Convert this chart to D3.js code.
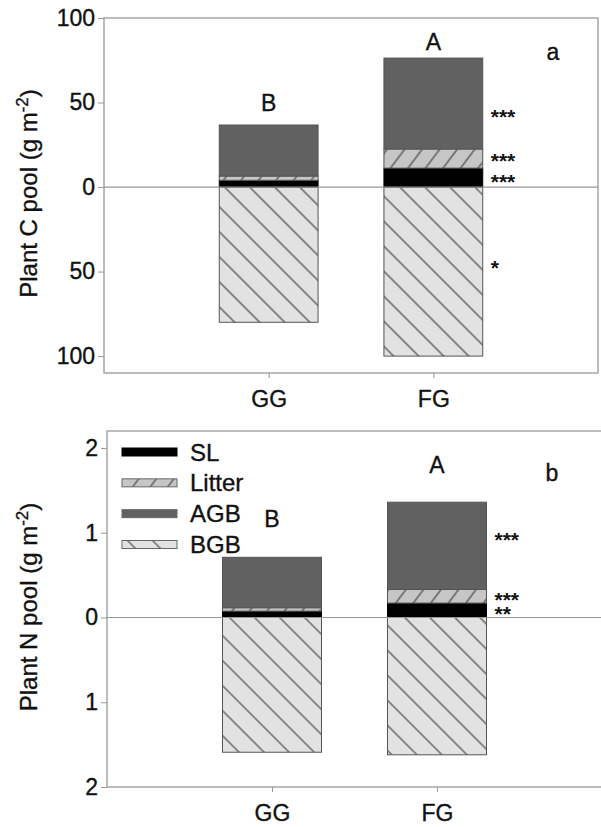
<!DOCTYPE html>
<html>
<head>
<meta charset="utf-8">
<script src="https://cdn.jsdelivr.net/npm/d3@7"></script>
<style>
  body { margin: 0; background: #fff; }
  svg { display: block; font-family: "Liberation Sans", Arial, sans-serif; }
  .lbl { fill: #111; stroke: #111; stroke-width: 0.35px; }
</style>
</head>
<body>
<svg id="chart" width="601" height="827"></svg>
<script>
// plant C / N pools, stacked above (SL, Litter, AGB) and below ground (BGB)
const categories = ['GG', 'FG'];
const components = ['SL', 'Litter', 'AGB', 'BGB'];

const cSL     = [4, 11.2];
const cLitter = [2.5, 11.3];
const cAGB    = [30.2, 53.8];
const cBGB    = [80, 100];
const cGroup  = ['B', 'A'];
const cSig    = { SL: '***', Litter: '***', AGB: '***', BGB: '*' };

const nSL     = [0.075, 0.17];
const nLitter = [0.04, 0.16];
const nAGB    = [0.595, 1.03];
const nBGB    = [1.59, 1.62];
const nGroup  = ['B', 'A'];
const nSig    = { SL: '**', Litter: '***', AGB: '***', BGB: '' };

const cTicks = [-100, -50, 0, 50, 100];
const nTicks = [-2, -1, 0, 1, 2];

const svg = d3.select('#chart');

// hatch patterns
const defs = svg.append('defs');
function hatch(id, bg, angle, gap) {
  const p = defs.append('pattern')
     .attr('id', id)
     .attr('patternUnits', 'userSpaceOnUse')
     .attr('width', gap)
     .attr('height', gap)
     .attr('patternTransform', `rotate(${angle})`);
  p.append('rect').attr('width', gap).attr('height', gap).attr('fill', bg);
  p.append('line')
     .attr('x1', gap / 2).attr('y1', 0)
     .attr('x2', gap / 2).attr('y2', gap)
     .attr('stroke', '#2a2a2a')
     .attr('stroke-width', 1);
}
hatch('hLitter', '#c6c6c6', 37, 14);
hatch('hBGB', '#e2e2e2', -45, 17.7);

const fills = { SL: '#000', Litter: 'url(#hLitter)', AGB: '#616161', BGB: 'url(#hBGB)' };

function drawPanel(cfg) {
  const { x0, x1, y0, y1 } = cfg;
  const g = svg.append('g');

  const x = d3.scalePoint().domain(categories).range([x0, x1]).padding(1);
  const y = d3.scaleLinear().domain(cfg.domain).range([y1, y0]);
  const bw = x.step() * 0.6;

  // frame
  g.append('rect')
     .attr('x', x0).attr('y', y0)
     .attr('width', x1 - x0).attr('height', y1 - y0)
     .attr('fill', 'none')
     .attr('stroke', '#a6a6a6')
     .attr('stroke-width', 1.5);

  // y axis
  const ya = g.append('g')
     .attr('transform', `translate(${x0},0)`)
     .call(d3.axisLeft(y).tickValues(cfg.ticks).tickSize(6).tickPadding(3)
       .tickFormat(d => Math.abs(d)));
  ya.select('.domain').remove();
  ya.selectAll('line').attr('stroke', '#999');
  ya.selectAll('text')
     .attr('class', 'lbl')
     .attr('font-size', '23px')
     .attr('font-family', '"Liberation Sans", Arial, sans-serif');

  // x axis
  const xa = g.append('g')
     .attr('transform', `translate(0,${y1})`)
     .call(d3.axisBottom(x).tickSize(5).tickPadding(13));
  xa.select('.domain').remove();
  xa.selectAll('line').attr('stroke', '#999');
  xa.selectAll('text')
     .attr('class', 'lbl')
     .attr('font-size', '23px')
     .attr('font-family', '"Liberation Sans", Arial, sans-serif');

  // stacked bars
  const rows = categories.map((c, i) => ({
    cat: c,
    SL: cfg.SL[i], Litter: cfg.Litter[i], AGB: cfg.AGB[i], BGB: cfg.BGB[i]
  }));
  const stack = d3.stack().keys(['SL', 'Litter', 'AGB'])(rows);

  // below ground first
  g.selectAll('.bgb')
     .data(rows)
     .join('rect')
     .attr('x', d => x(d.cat) - bw / 2)
     .attr('y', y(0))
     .attr('width', bw)
     .attr('height', d => y(-d.BGB) - y(0))
     .attr('fill', fills.BGB)
     .attr('stroke', '#555')
     .attr('stroke-width', 1);

  stack.forEach(layer => {
    g.selectAll(null)
       .data(layer)
       .join('rect')
       .attr('x', d => x(d.data.cat) - bw / 2)
       .attr('y', d => y(d[1]))
       .attr('width', bw)
       .attr('height', d => y(d[0]) - y(d[1]))
       .attr('fill', fills[layer.key])
       .attr('stroke', layer.key === 'SL' ? '#000' : '#555')
       .attr('stroke-width', 1);
  });

  // zero line
  g.append('line')
     .attr('x1', x0).attr('x2', x1)
     .attr('y1', y(0)).attr('y2', y(0))
     .attr('stroke', '#999')
     .attr('stroke-width', 1.2);

  // group letters
  categories.forEach((c, i) => {
    g.append('text')
       .attr('class', 'lbl')
       .attr('x', x(c))
       .attr('y', y(cfg.letterPos[i]) + 8)
       .attr('text-anchor', 'middle')
       .attr('font-size', '23px')
       .text(cfg.group[i]);
  });

  // significance stars next to FG bar
  const fg = rows[1];
  const mids = {
    SL: fg.SL / 2,
    Litter: fg.SL + fg.Litter / 2,
    AGB: fg.SL + fg.Litter + fg.AGB / 2,
    BGB: -fg.BGB / 2
  };
  components.forEach(k => {
    if (!cfg.sig[k]) return;
    g.append('text')
       .attr('x', x('FG') + bw / 2 + 8)
       .attr('y', y(mids[k]) + (cfg.nudge[k] || 0) + 11)
       .attr('font-size', '21px')
       .attr('font-weight', 'bold')
       .attr('fill', '#111')
       .text(cfg.sig[k]);
  });

  // panel label
  g.append('text')
     .attr('class', 'lbl')
     .attr('x', cfg.tag[0]).attr('y', cfg.tag[1])
     .attr('text-anchor', 'middle')
     .attr('font-size', '23px')
     .text(cfg.label);

  // y title
  const t = g.append('text')
     .attr('class', 'lbl')
     .attr('transform', `translate(${cfg.titleX},${(y0 + y1) / 2 + cfg.titleDy}) rotate(-90)`)
     .attr('text-anchor', 'middle')
     .attr('font-size', '24px');
  t.append('tspan').text(cfg.title);
  t.append('tspan').attr('font-size', '17px').attr('dy', -9).text('-2');
  t.append('tspan').attr('dy', 9).text(')');
}

drawPanel({
  x0: 104, x1: 598, y0: 18, y1: 373,
  domain: [-110, 100], ticks: cTicks,
  SL: cSL, Litter: cLitter, AGB: cAGB, BGB: cBGB,
  group: cGroup, letterPos: [50, 86], sig: cSig,
  nudge: { AGB: 9, Litter: -2, BGB: -8 },
  label: 'a', tag: [553, 60],
  title: 'Plant C pool (g m', titleX: 37, titleDy: -2
});

drawPanel({
  x0: 107, x1: 602, y0: 431, y1: 787,
  domain: [-2, 2.2], ticks: nTicks,
  SL: nSL, Litter: nLitter, AGB: nAGB, BGB: nBGB,
  group: nGroup, letterPos: [1.16, 1.8], sig: nSig,
  nudge: { AGB: -10 },
  label: 'b', tag: [552, 481],
  title: 'Plant N pool (g m', titleX: 37, titleDy: -2
});

// legend in panel b
const legend = svg.append('g');
const legendY = d3.scalePoint().domain(components).range([452, 544.5]);
components.forEach(k => {
  legend.append('rect')
     .attr('x', 122).attr('y', legendY(k) - 4)
     .attr('width', 55).attr('height', 8)
     .attr('fill', fills[k])
     .attr('stroke', k === 'SL' ? '#000' : '#666')
     .attr('stroke-width', 1);
  legend.append('text')
     .attr('class', 'lbl')
     .attr('x', 190).attr('y', legendY(k) + 8.5)
     .attr('font-size', '24px')
     .text(k);
});
</script>
</body>
</html>
